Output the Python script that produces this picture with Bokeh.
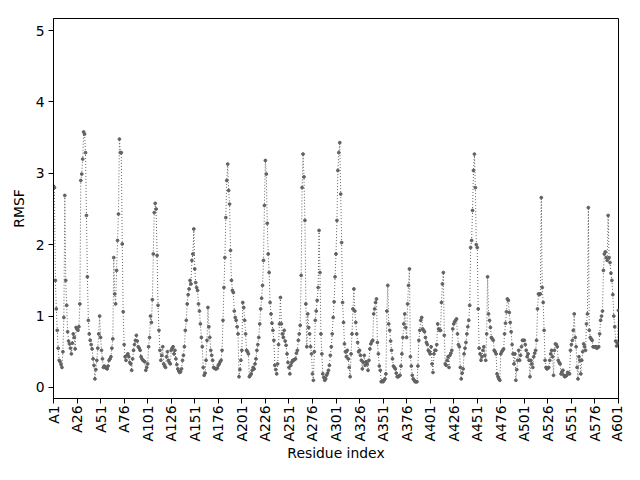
import math
from bokeh.plotting import figure
from bokeh.models import Range1d, FixedTicker, ColumnDataSource
from bokeh.embed import file_html
from bokeh.resources import INLINE

# RMSF per residue (index 0 -> A1)
rmsf = [
    2.82, 2.8, 1.5, 1.1, 0.8, 0.55, 0.38, 0.36, 0.32, 0.28,
    0.5, 0.98, 2.69, 1.5, 1.15, 0.78, 0.65, 0.61, 0.55, 0.47,
    0.62, 0.75, 0.7, 0.54, 0.84, 0.82, 0.8, 0.85, 1.17, 2.9,
    2.99, 3.2, 3.58, 3.55, 3.29, 2.41, 1.55, 0.94, 0.75, 0.66,
    0.6, 0.54, 0.4, 0.31, 0.12, 0.25, 0.38, 0.55, 0.75, 1.0,
    0.7, 0.52, 0.4, 0.28, 0.3, 0.28, 0.27, 0.26, 0.3, 0.38,
    0.4, 0.43, 0.55, 0.68, 1.82, 1.31, 1.17, 1.64, 2.06, 2.43,
    3.48, 3.29, 3.29, 2.01, 1.06, 0.6, 0.43, 0.38, 0.45, 0.47,
    0.43, 0.35, 0.33, 0.24, 0.4, 0.52, 0.6, 0.66, 0.73, 0.65,
    0.57, 0.55, 0.52, 0.43, 0.4, 0.38, 0.37, 0.36, 0.24, 0.28,
    0.33, 0.57, 0.7, 1.0, 0.91, 1.23, 1.87, 2.45, 2.58, 2.5,
    1.85, 1.15, 0.8, 0.52, 0.38, 0.45, 0.57, 0.33, 0.3, 0.28,
    0.43, 0.5, 0.38, 0.35, 0.33, 0.52, 0.55, 0.57, 0.47, 0.52,
    0.4, 0.32, 0.26, 0.23, 0.21, 0.22, 0.26, 0.38, 0.45, 0.57,
    0.8, 0.94, 1.17, 1.3, 1.38, 1.5, 1.45, 1.78, 1.87, 2.22,
    1.66, 1.47, 1.4, 1.36, 1.17, 1.07, 0.89, 0.7, 0.57, 0.28,
    0.17, 0.2, 0.38, 0.66, 1.12, 0.85, 0.7, 0.52, 0.45, 0.38,
    0.28, 0.27, 0.26, 0.26, 0.27, 0.31, 0.33, 0.36, 0.38, 0.52,
    0.94, 1.4, 1.82, 2.38, 2.9, 3.13, 2.76, 2.57, 1.92, 1.5,
    1.36, 1.33, 1.07, 0.98, 0.94, 0.85, 0.75, 0.15, 0.25, 0.38,
    0.52, 1.19, 1.12, 0.94, 0.75, 0.52, 0.5, 0.47, 0.15, 0.17,
    0.19, 0.24, 0.28, 0.26, 0.33, 0.4, 0.52, 0.6, 0.7, 0.89,
    1.1, 1.25, 1.43, 1.78, 2.55, 3.18, 2.99, 2.3, 1.87, 1.61,
    1.19, 1.03, 0.9, 0.8, 0.66, 0.31, 0.25, 0.19, 0.33, 0.6,
    0.89, 1.26, 0.89, 0.75, 0.7, 0.8, 0.65, 0.59, 0.47, 0.35,
    0.28, 0.19, 0.31, 0.35, 0.38, 0.38, 0.39, 0.4, 0.48, 0.52,
    0.66, 0.75, 0.87, 1.57, 2.8, 3.27, 2.95, 2.34, 1.17, 0.57,
    1.03, 0.84, 0.75, 0.57, 0.47, 0.19, 0.1, 0.5, 0.94, 1.07,
    1.22, 1.4, 2.2, 1.61, 0.75, 0.47, 0.19, 0.14, 0.1, 0.12,
    0.17, 0.2, 0.24, 0.31, 0.45, 0.57, 0.75, 0.98, 1.2, 1.55,
    1.87, 2.34, 3.04, 3.29, 3.43, 2.71, 2.03, 1.19, 0.91, 0.61,
    0.5, 0.43, 0.52, 0.4, 0.28, 0.15, 0.47, 0.75, 1.1, 1.38,
    1.07, 0.91, 0.75, 0.63, 0.5, 0.52, 0.45, 0.38, 0.26, 0.35,
    0.45, 0.31, 0.36, 0.33, 0.24, 0.38, 0.54, 0.61, 0.64, 0.66,
    1.03, 1.1, 1.19, 1.24, 0.63, 0.47, 0.3, 0.24, 0.08, 0.09,
    0.08, 0.1, 0.12, 0.19, 1.07, 1.43, 0.89, 0.8, 0.65, 0.52,
    0.4, 0.3, 0.28, 0.26, 0.2, 0.15, 0.15, 0.16, 0.17, 0.3,
    0.47, 0.7, 0.89, 1.03, 0.84, 0.7, 1.17, 1.43, 1.66, 0.43,
    0.3, 0.17, 0.12, 0.1, 0.08, 0.08, 0.08, 0.3, 0.66, 0.8,
    0.94, 0.98, 0.82, 0.8, 0.78, 0.7, 0.63, 0.6, 0.52, 0.5,
    0.47, 0.57, 0.33, 0.21, 0.47, 0.52, 0.52, 0.6, 0.89, 0.82,
    0.8, 0.8, 1.19, 1.45, 1.61, 0.73, 0.33, 0.31, 0.38, 0.43,
    0.28, 0.45, 0.48, 0.52, 0.82, 0.89, 0.92, 0.94, 0.96, 0.75,
    0.6, 0.57, 0.28, 0.12, 0.2, 0.26, 0.47, 0.55, 0.63, 0.75,
    0.85, 0.94, 1.15, 1.96, 2.06, 2.48, 3.04, 3.27, 2.8, 2.0,
    1.96, 1.1, 0.55, 0.47, 0.38, 0.43, 0.52, 0.57, 0.45, 0.38,
    0.75, 1.55, 1.03, 0.94, 0.84, 0.7, 0.68, 0.66, 0.52, 0.5,
    0.47, 0.19, 0.15, 0.12, 0.1, 0.47, 0.5, 0.52, 0.54, 0.75,
    0.9, 1.06, 1.24, 1.22, 1.05, 0.91, 0.78, 0.6, 0.47, 0.33,
    0.47, 0.1, 0.25, 0.38, 0.52, 0.38, 0.45, 0.57, 0.66, 0.66,
    0.66, 0.6, 0.52, 0.43, 0.47, 0.38, 0.15, 0.38, 0.33, 0.28,
    0.43, 0.48, 0.52, 0.66, 1.1, 1.31, 1.3, 1.31, 2.66, 1.4,
    1.19, 0.8, 0.38, 0.28, 0.26, 0.27, 0.28, 0.38, 0.47, 0.52,
    0.43, 0.17, 0.52, 0.61, 0.6, 0.57, 0.38, 0.35, 0.33, 0.19,
    0.22, 0.24, 0.17, 0.15, 0.16, 0.17, 0.21, 0.2, 0.19, 0.52,
    0.6, 0.66, 0.8, 1.03, 0.7, 0.57, 0.28, 0.12, 0.43, 0.38,
    0.19, 0.38, 0.5, 0.61, 0.57, 0.52, 0.89, 1.03, 2.52, 0.8,
    0.7, 0.68, 0.66, 0.57, 0.57, 0.57, 0.57, 0.55, 0.56, 0.57,
    0.75, 0.94, 1.0, 1.07, 1.64, 1.87, 1.9, 1.82, 1.78, 2.41,
    1.82, 1.75, 1.6, 1.5, 1.3, 1.0, 0.85, 0.65, 0.58, 0.62, 1.08,
]
residue_index = list(range(len(rmsf)))

tick_positions = list(range(0, 601, 25))
tick_labels = ["A" + str(t + 1) for t in tick_positions]
y_ticks = [0, 1, 2, 3, 4, 5]

FONT = "DejaVu Sans"
COLOR = "#626262"

p = figure(width=624, height=464,
           x_range=Range1d(0, 600), y_range=Range1d(-0.155, 5.17),
           output_backend="svg", toolbar_location=None,
           min_border_left=53, min_border_right=6,
           min_border_top=18, min_border_bottom=66)

src = ColumnDataSource(data=dict(x=residue_index, y=rmsf))
p.line("x", "y", source=src, line_color=COLOR, line_width=1, line_dash="1 2")
p.scatter("x", "y", source=src, size=2.8, fill_color=COLOR, line_color=COLOR)

p.xgrid.visible = False
p.ygrid.visible = False
p.outline_line_color = "black"
p.outline_line_alpha = 1.0
p.outline_line_width = 1
p.background_fill_color = "white"
p.border_fill_color = "white"

p.xaxis.ticker = FixedTicker(ticks=tick_positions)
p.xaxis.major_label_overrides = {t: l for t, l in zip(tick_positions, tick_labels)}
p.xaxis.major_label_orientation = math.pi / 2
p.yaxis.ticker = FixedTicker(ticks=y_ticks)

for ax in (p.xaxis[0], p.yaxis[0]):
    ax.major_label_text_font = FONT
    ax.major_label_text_font_size = "13.9px"
    ax.major_label_text_color = "black"
    ax.axis_label_text_font = FONT
    ax.axis_label_text_font_size = "13.9px"
    ax.axis_label_text_font_style = "normal"
    ax.axis_label_text_color = "black"
    ax.major_tick_in = 0
    ax.major_tick_out = 5
    ax.minor_tick_in = 0
    ax.minor_tick_out = 0
    ax.axis_line_color = "black"
    ax.major_tick_line_color = "black"

p.xaxis.axis_label = "Residue index"
p.yaxis.axis_label = "RMSF"
p.xaxis.major_label_standoff = 2
p.yaxis.major_label_standoff = 4
p.xaxis.axis_label_standoff = 0
p.yaxis.axis_label_standoff = 6

open("out.html", "w").write(file_html(p, INLINE))
